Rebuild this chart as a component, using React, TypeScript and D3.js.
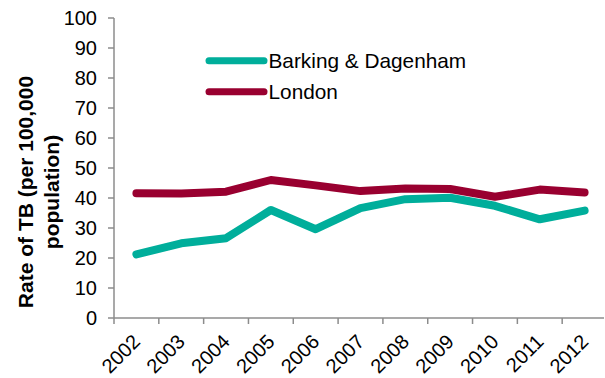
import React from "react";
import * as d3 from "d3";

const years = ["2002", "2003", "2004", "2005", "2006", "2007", "2008", "2009", "2010", "2011", "2012"];
const barking = [21.2, 24.9, 26.6, 36.0, 29.6, 36.6, 39.6, 40.1, 37.4, 32.9, 35.8];
const london = [41.6, 41.5, 42.1, 46.0, 44.2, 42.3, 43.2, 43.0, 40.4, 42.8, 41.8];
const yTicks = [0, 10, 20, 30, 40, 50, 60, 70, 80, 90, 100];
const seriesNames = ["Barking & Dagenham", "London"];
const seriesColors = ["#00AE9B", "#990030"];

const W = 605;
const H = 378;
const left = 114;
const right = 607;
const top = 18;
const bottom = 318;
const font = "'Liberation Sans', Arial, sans-serif";

export default function App() {
  const x = d3.scaleBand<string>().domain(years).range([left, right]).padding(0);
  const y = d3.scaleLinear().domain([0, 100]).range([bottom, top]);
  const line = d3
    .line<number>()
    .x((_, i) => (x(years[i]) as number) + x.bandwidth() / 2)
    .y((d) => y(d));
  const series = [barking, london];
  const axisColor = "#8c8c8c";

  return (
    <svg
      width={W}
      height={H}
      style={{ position: "absolute", left: 0, top: 0, display: "block", background: "#fff" }}
      fontFamily={font}
    >
      {/* y axis */}
      <line x1={left} x2={left} y1={top} y2={bottom} stroke={axisColor} strokeWidth={1.5} />
      {yTicks.map((t) => (
        <g key={t}>
          <line x1={left - 6} x2={left} y1={y(t)} y2={y(t)} stroke={axisColor} strokeWidth={1.5} />
          <text x={left - 17} y={y(t)} dy="0.36em" textAnchor="end" fontSize={20} fill="#000">
            {t}
          </text>
        </g>
      ))}
      {/* x axis */}
      <line x1={left} x2={604} y1={bottom} y2={bottom} stroke={axisColor} strokeWidth={1.5} />
      {years.map((yr) => (
        <line
          key={"t" + yr}
          x1={x(yr) as number}
          x2={x(yr) as number}
          y1={bottom}
          y2={bottom + 6}
          stroke={axisColor}
          strokeWidth={1.5}
        />
      ))}
      {years.map((yr) => {
        const cx = (x(yr) as number) + x.bandwidth() / 2 + 5;
        const cy = bottom + 25;
        return (
          <text
            key={"l" + yr}
            transform={`translate(${cx},${cy}) rotate(-45)`}
            textAnchor="end"
            fontSize={20}
            fill="#000"
          >
            {yr}
          </text>
        );
      })}
      {/* axis title */}
      <text
        transform="translate(32.5,192) rotate(-90)"
        textAnchor="middle"
        fontSize={21}
        fontWeight="bold"
        fill="#000"
      >
        <tspan x={0} y={0}>Rate of TB (per 100,000</tspan>
        <tspan x={0} y={26.5}>population)</tspan>
      </text>
      {/* lines */}
      {series.map((s, i) => (
        <path
          key={seriesNames[i]}
          d={line(s) || ""}
          fill="none"
          stroke={seriesColors[i]}
          strokeWidth={8}
          strokeLinecap="round"
          strokeLinejoin="round"
        />
      ))}
      {/* legend */}
      {seriesNames.map((n, i) => {
        const ly = 60.7 + i * 31;
        return (
          <g key={"lg" + n}>
            <line x1={209} x2={264} y1={ly} y2={ly} stroke={seriesColors[i]} strokeWidth={7} strokeLinecap="round" />
            <text x={268.5} y={ly} dy="0.36em" fontSize={20.8} fill="#000">
              {n}
            </text>
          </g>
        );
      })}
    </svg>
  );
}
